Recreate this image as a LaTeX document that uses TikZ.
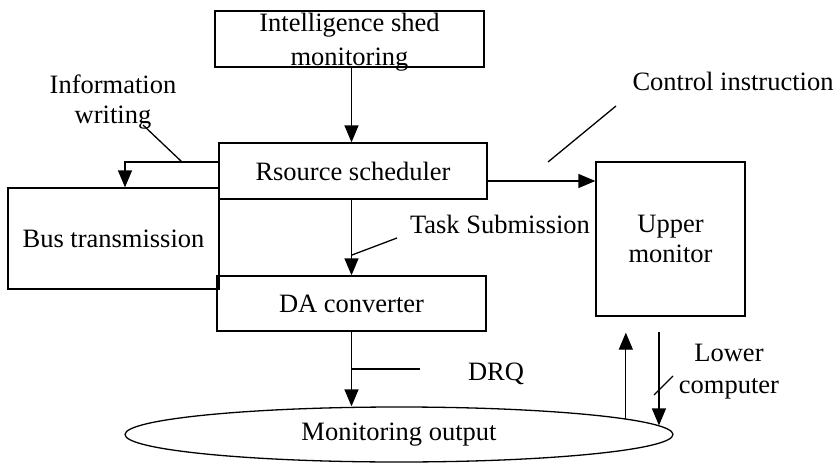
\documentclass[tikz,border=0pt]{standalone}
\usepackage{fontspec}
\setmainfont{Liberation Serif}
\usetikzlibrary{arrows.meta, shapes.geometric}

\begin{document}
\begin{tikzpicture}[x=1pt, y=-1pt, >={Triangle[length=17pt, width=14pt]}, line width=1.3pt, font=\fontsize{26.5}{30}\selectfont]
	\tikzstyle{block} = [draw=black, rectangle, inner sep=0pt, align=center]
	\tikzstyle{invis} = [draw=none, inner sep=0pt, align=center]
	
	\useasboundingbox (0, 0) rectangle (839, 463);
	
	\node[block, minimum width=269, minimum height=56, text height=54pt, text depth=2pt]	at (349.5, 39)		(q0)	{Intelligence shed\\[4pt]monitoring};
	\node[block, minimum width=268, minimum height=56]		at (353, 171)		(q1)	{Rsource scheduler};
	\node[block, minimum width=269, minimum height=55]		at (351.5, 303.5)	(q2)	{DA converter};
	\node[block, minimum width=211, minimum height=101]		at (113.5, 238.5)	(q3)	{Bus transmission};
	\node[block, minimum width=149, minimum height=154]		at (670.5, 239)		(q4)	{Upper\\monitor};
	\node[block, ellipse, minimum width=548, minimum height=55]	at (399, 434.5)		(q5)	{Monitoring output};
	\node[invis]			at (113, 102)		(q6)	{Information\\writing};
	\node[invis]			at (500, 224)		(q7)	{Task Submission};
	\node[invis]			at (496, 374)		(q8)	{DRQ};
	\node[invis]			at (733, 81)		(q9)	{Control instruction};
	\node[invis]			at (729, 372)		(q10)	{Lower\\[2pt]computer};
	
	\path[->]
	(q0.south -| q2.north)	edge		(q2.north |- q1.north)
	(q1.south -| q2.north)	edge		(q2.north)
	(q2.south)				edge		(q2.south |- q5.north)
	(q1.east |- 0,181)		edge		(q4.west |- 0,181);
	
	\draw[->] (q1.west |- 0,162) -| (125,0 |- q3.north);
	\draw[->, shorten >=16pt] (q5.4.53) -- (q5.4.53 |- q4.south);
	\draw[->, shorten <=15pt] (q5.2.34 |- q4.south) -- (q5.2.34);
	
	% leader lines
	\coordinate (w0) at (182, 162);	\coordinate (w1) at (143, 125);
	\coordinate (t0) at (352, 255);	\coordinate (t1) at (397, 238);
	\coordinate (d0) at (352, 369);	\coordinate (d1) at (420, 369);
	\coordinate (c0) at (548, 162);	\coordinate (c1) at (616, 106);
	\coordinate (l0) at (654, 395);	\coordinate (l1) at (673, 376);
	\draw (w0) -- (w1);
	\draw (t0) -- (t1);
	\draw (d0) -- (d1);
	\draw (c0) -- (c1);
	\draw (l0) -- (l1);
\end{tikzpicture}
\end{document}
